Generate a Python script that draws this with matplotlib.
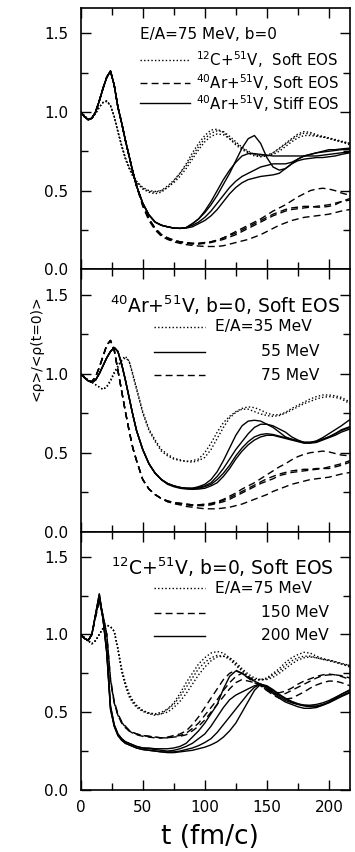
import numpy as np
import matplotlib
matplotlib.use("Agg")
import matplotlib.pyplot as plt
from matplotlib.ticker import MultipleLocator

plt.rcParams["font.family"] = ["DejaVu Sans"]
plt.rcParams["mathtext.default"] = "regular"

# time grid (fm/c) shared by all curves
t = [0, 3, 6, 9, 12, 15, 18, 21, 24, 27,
     30, 33, 36, 39, 42, 45, 50, 55, 60, 65,
     70, 75, 80, 85, 90, 95, 100, 105, 110, 115,
     120, 125, 130, 135, 140, 145, 150, 155, 160, 165,
     170, 175, 180, 185, 190, 195, 200, 205, 210, 217]

# ---- panel 1: E/A=75 MeV, b=0 ----
p1_dot_a = [1.00, 0.975, 0.955, 0.96, 0.99, 1.03, 1.06, 1.07, 1.04, 0.97,
            0.87, 0.78, 0.70, 0.64, 0.59, 0.55, 0.51, 0.49, 0.48, 0.49,
            0.52, 0.56, 0.61, 0.67, 0.74, 0.80, 0.85, 0.885, 0.89, 0.87,
            0.83, 0.79, 0.76, 0.74, 0.72, 0.715, 0.72, 0.74, 0.77, 0.80,
            0.83, 0.86, 0.875, 0.87, 0.855, 0.845, 0.835, 0.825, 0.815, 0.80]
p1_dot_b = [1.00, 0.975, 0.955, 0.96, 0.99, 1.03, 1.06, 1.065, 1.04, 0.97,
            0.88, 0.79, 0.71, 0.65, 0.60, 0.56, 0.52, 0.50, 0.495, 0.50,
            0.52, 0.55, 0.59, 0.64, 0.70, 0.76, 0.81, 0.845, 0.86, 0.855,
            0.83, 0.80, 0.77, 0.745, 0.73, 0.72, 0.72, 0.73, 0.75, 0.78,
            0.81, 0.835, 0.85, 0.85, 0.845, 0.84, 0.83, 0.82, 0.81, 0.80]
p1_dot_c = [1.00, 0.975, 0.955, 0.96, 0.99, 1.03, 1.06, 1.07, 1.04, 0.97,
            0.875, 0.785, 0.705, 0.645, 0.595, 0.555, 0.515, 0.495, 0.49, 0.50,
            0.53, 0.565, 0.61, 0.66, 0.72, 0.78, 0.83, 0.865, 0.88, 0.875,
            0.845, 0.81, 0.775, 0.75, 0.73, 0.72, 0.725, 0.74, 0.765, 0.795,
            0.825, 0.85, 0.865, 0.86, 0.85, 0.84, 0.835, 0.82, 0.81, 0.79]

p1_dash_a = [1.00, 0.97, 0.95, 0.96, 1.00, 1.07, 1.15, 1.22, 1.26, 1.17,
             1.03, 0.93, 0.82, 0.72, 0.62, 0.53, 0.41, 0.32, 0.26, 0.22,
             0.20, 0.185, 0.175, 0.17, 0.165, 0.165, 0.17, 0.175, 0.185, 0.20,
             0.22, 0.24, 0.26, 0.28, 0.30, 0.32, 0.345, 0.37, 0.39, 0.41,
             0.435, 0.46, 0.48, 0.50, 0.51, 0.515, 0.51, 0.50, 0.485, 0.47]
p1_dash_b = [1.00, 0.97, 0.95, 0.96, 1.00, 1.07, 1.15, 1.22, 1.26, 1.17,
             1.03, 0.93, 0.82, 0.72, 0.62, 0.53, 0.41, 0.32, 0.26, 0.22,
             0.20, 0.185, 0.175, 0.17, 0.165, 0.165, 0.17, 0.175, 0.185, 0.20,
             0.215, 0.23, 0.25, 0.27, 0.29, 0.31, 0.33, 0.35, 0.365, 0.38,
             0.39, 0.395, 0.40, 0.40, 0.395, 0.395, 0.40, 0.41, 0.43, 0.45]
p1_dash_c = [1.00, 0.97, 0.95, 0.96, 1.00, 1.07, 1.15, 1.22, 1.26, 1.17,
             1.03, 0.93, 0.82, 0.72, 0.62, 0.53, 0.41, 0.32, 0.26, 0.22,
             0.195, 0.18, 0.17, 0.165, 0.16, 0.16, 0.165, 0.17, 0.18, 0.19,
             0.205, 0.22, 0.24, 0.26, 0.28, 0.30, 0.32, 0.34, 0.355, 0.37,
             0.38, 0.385, 0.39, 0.395, 0.40, 0.405, 0.41, 0.42, 0.43, 0.44]
p1_dash_d = [1.00, 0.97, 0.95, 0.96, 1.00, 1.07, 1.15, 1.22, 1.26, 1.17,
             1.03, 0.93, 0.82, 0.72, 0.62, 0.53, 0.40, 0.31, 0.25, 0.21,
             0.19, 0.175, 0.165, 0.157, 0.152, 0.148, 0.145, 0.145, 0.145, 0.15,
             0.16, 0.17, 0.18, 0.19, 0.205, 0.22, 0.24, 0.26, 0.28, 0.295,
             0.31, 0.32, 0.33, 0.335, 0.34, 0.345, 0.35, 0.36, 0.37, 0.38]

p1_solid_a = [1.00, 0.97, 0.95, 0.96, 1.00, 1.07, 1.15, 1.22, 1.26, 1.17,
              1.03, 0.93, 0.82, 0.72, 0.62, 0.53, 0.42, 0.345, 0.30, 0.28,
              0.27, 0.262, 0.26, 0.265, 0.29, 0.32, 0.36, 0.41, 0.47, 0.54,
              0.61, 0.69, 0.77, 0.83, 0.85, 0.80, 0.71, 0.65, 0.63, 0.64,
              0.67, 0.70, 0.72, 0.73, 0.74, 0.745, 0.75, 0.755, 0.76, 0.76]
p1_solid_b = [1.00, 0.97, 0.95, 0.96, 1.00, 1.07, 1.15, 1.22, 1.26, 1.17,
              1.03, 0.93, 0.82, 0.72, 0.62, 0.53, 0.42, 0.345, 0.30, 0.28,
              0.27, 0.262, 0.26, 0.265, 0.29, 0.32, 0.37, 0.43, 0.50, 0.57,
              0.63, 0.68, 0.72, 0.735, 0.735, 0.73, 0.725, 0.72, 0.72, 0.72,
              0.72, 0.72, 0.72, 0.72, 0.72, 0.725, 0.73, 0.735, 0.74, 0.745]
p1_solid_c = [1.00, 0.97, 0.95, 0.96, 1.00, 1.07, 1.15, 1.22, 1.26, 1.17,
              1.03, 0.93, 0.82, 0.72, 0.62, 0.53, 0.42, 0.345, 0.30, 0.28,
              0.27, 0.262, 0.26, 0.265, 0.28, 0.30, 0.33, 0.37, 0.42, 0.47,
              0.52, 0.56, 0.59, 0.61, 0.63, 0.65, 0.66, 0.67, 0.67, 0.67,
              0.68, 0.70, 0.72, 0.73, 0.74, 0.75, 0.76, 0.76, 0.765, 0.77]
p1_solid_d = [1.00, 0.97, 0.95, 0.96, 1.00, 1.07, 1.15, 1.22, 1.26, 1.17,
              1.03, 0.93, 0.82, 0.72, 0.62, 0.53, 0.42, 0.345, 0.30, 0.28,
              0.27, 0.262, 0.26, 0.262, 0.27, 0.29, 0.31, 0.34, 0.38, 0.43,
              0.48, 0.52, 0.55, 0.57, 0.58, 0.59, 0.595, 0.60, 0.61, 0.64,
              0.67, 0.69, 0.70, 0.705, 0.71, 0.71, 0.715, 0.72, 0.73, 0.74]

# ---- panel 2: 40Ar+51V, b=0, soft EOS ----
p2_dot_a = [1.00, 0.98, 0.96, 0.945, 0.93, 0.915, 0.90, 0.92, 0.96, 1.01,
            1.05, 1.09, 1.11, 1.08, 0.99, 0.90, 0.75, 0.64, 0.57, 0.51,
            0.48, 0.46, 0.45, 0.445, 0.45, 0.46, 0.50, 0.56, 0.63, 0.69,
            0.73, 0.76, 0.78, 0.79, 0.785, 0.77, 0.75, 0.74, 0.74, 0.755,
            0.78, 0.80, 0.82, 0.84, 0.855, 0.865, 0.865, 0.86, 0.85, 0.82]
p2_dot_b = [1.00, 0.98, 0.96, 0.945, 0.93, 0.915, 0.90, 0.915, 0.95, 1.00,
            1.04, 1.08, 1.10, 1.08, 1.00, 0.91, 0.76, 0.65, 0.58, 0.52,
            0.49, 0.465, 0.455, 0.445, 0.44, 0.45, 0.47, 0.52, 0.59, 0.66,
            0.72, 0.755, 0.775, 0.775, 0.76, 0.745, 0.735, 0.73, 0.735, 0.75,
            0.77, 0.79, 0.81, 0.825, 0.84, 0.85, 0.855, 0.85, 0.84, 0.81]

p2_solid_a = [1.00, 0.975, 0.955, 0.945, 0.96, 1.00, 1.05, 1.10, 1.14, 1.165,
              1.14, 1.06, 0.96, 0.85, 0.74, 0.64, 0.52, 0.43, 0.37, 0.33,
              0.305, 0.29, 0.28, 0.275, 0.275, 0.285, 0.30, 0.33, 0.38, 0.45,
              0.53, 0.61, 0.67, 0.70, 0.705, 0.70, 0.68, 0.66, 0.63, 0.60,
              0.585, 0.575, 0.565, 0.565, 0.575, 0.595, 0.62, 0.645, 0.67, 0.71]
p2_solid_b = [1.00, 0.975, 0.955, 0.945, 0.96, 1.00, 1.05, 1.10, 1.14, 1.165,
              1.14, 1.06, 0.96, 0.85, 0.74, 0.64, 0.52, 0.43, 0.37, 0.33,
              0.305, 0.29, 0.28, 0.275, 0.275, 0.28, 0.29, 0.31, 0.35, 0.40,
              0.46, 0.52, 0.57, 0.62, 0.66, 0.68, 0.68, 0.67, 0.65, 0.63,
              0.60, 0.58, 0.565, 0.565, 0.57, 0.585, 0.60, 0.62, 0.645, 0.665]
p2_solid_c = [1.00, 0.975, 0.955, 0.945, 0.96, 1.00, 1.05, 1.10, 1.14, 1.165,
              1.14, 1.06, 0.96, 0.85, 0.74, 0.64, 0.52, 0.43, 0.37, 0.33,
              0.305, 0.29, 0.28, 0.275, 0.272, 0.275, 0.285, 0.30, 0.33, 0.37,
              0.42, 0.48, 0.53, 0.57, 0.60, 0.615, 0.62, 0.615, 0.605, 0.595,
              0.585, 0.575, 0.565, 0.565, 0.57, 0.585, 0.60, 0.62, 0.64, 0.66]
p2_solid_d = [1.00, 0.975, 0.955, 0.945, 0.96, 1.00, 1.05, 1.10, 1.14, 1.165,
              1.14, 1.06, 0.96, 0.85, 0.74, 0.64, 0.52, 0.43, 0.37, 0.33,
              0.30, 0.285, 0.275, 0.27, 0.268, 0.27, 0.275, 0.29, 0.31, 0.35,
              0.40, 0.46, 0.51, 0.55, 0.58, 0.60, 0.61, 0.61, 0.60, 0.59,
              0.58, 0.57, 0.56, 0.56, 0.565, 0.58, 0.595, 0.61, 0.63, 0.65]

p2_dash_a = [1.00, 0.975, 0.955, 0.95, 0.98, 1.04, 1.11, 1.18, 1.21, 1.15,
             1.02, 0.89, 0.76, 0.64, 0.53, 0.45, 0.33, 0.27, 0.235, 0.21,
             0.195, 0.185, 0.18, 0.175, 0.17, 0.17, 0.175, 0.18, 0.19, 0.205,
             0.225, 0.245, 0.27, 0.29, 0.31, 0.335, 0.36, 0.385, 0.41, 0.43,
             0.455, 0.475, 0.49, 0.50, 0.505, 0.51, 0.505, 0.495, 0.485, 0.48]
p2_dash_b = [1.00, 0.975, 0.955, 0.95, 0.98, 1.04, 1.11, 1.18, 1.21, 1.15,
             1.02, 0.89, 0.76, 0.64, 0.53, 0.45, 0.33, 0.27, 0.235, 0.21,
             0.195, 0.185, 0.18, 0.175, 0.17, 0.17, 0.17, 0.175, 0.185, 0.20,
             0.215, 0.235, 0.255, 0.275, 0.295, 0.315, 0.335, 0.35, 0.365, 0.375,
             0.385, 0.39, 0.395, 0.395, 0.40, 0.40, 0.41, 0.42, 0.43, 0.45]
p2_dash_c = [1.00, 0.975, 0.955, 0.95, 0.98, 1.04, 1.11, 1.18, 1.21, 1.15,
             1.02, 0.89, 0.76, 0.64, 0.53, 0.45, 0.33, 0.27, 0.235, 0.21,
             0.19, 0.18, 0.175, 0.17, 0.165, 0.165, 0.165, 0.17, 0.18, 0.19,
             0.205, 0.225, 0.245, 0.265, 0.285, 0.305, 0.32, 0.335, 0.355, 0.365,
             0.375, 0.38, 0.385, 0.39, 0.395, 0.40, 0.40, 0.41, 0.42, 0.44]
p2_dash_d = [1.00, 0.975, 0.955, 0.95, 0.98, 1.04, 1.11, 1.18, 1.21, 1.15,
             1.02, 0.89, 0.76, 0.64, 0.53, 0.45, 0.33, 0.27, 0.235, 0.21,
             0.19, 0.178, 0.17, 0.16, 0.155, 0.15, 0.145, 0.145, 0.145, 0.15,
             0.155, 0.165, 0.175, 0.19, 0.205, 0.22, 0.235, 0.255, 0.27, 0.285,
             0.30, 0.31, 0.32, 0.33, 0.335, 0.34, 0.345, 0.355, 0.365, 0.375]

# ---- panel 3: 12C+51V, b=0, soft EOS ----
p3_dot_a = [1.00, 0.98, 0.96, 0.94, 0.96, 1.00, 1.04, 1.06, 1.05, 1.02,
            0.90, 0.76, 0.67, 0.60, 0.56, 0.53, 0.505, 0.49, 0.48, 0.49,
            0.52, 0.56, 0.62, 0.69, 0.75, 0.81, 0.85, 0.88, 0.89, 0.88,
            0.85, 0.81, 0.77, 0.73, 0.71, 0.71, 0.72, 0.75, 0.78, 0.82,
            0.85, 0.87, 0.885, 0.88, 0.86, 0.845, 0.835, 0.825, 0.81, 0.79]
p3_dot_b = [1.00, 0.98, 0.96, 0.94, 0.96, 1.00, 1.04, 1.06, 1.05, 1.02,
            0.91, 0.77, 0.68, 0.61, 0.57, 0.54, 0.51, 0.495, 0.49, 0.50,
            0.52, 0.55, 0.60, 0.66, 0.72, 0.78, 0.82, 0.85, 0.865, 0.86,
            0.84, 0.80, 0.765, 0.73, 0.71, 0.705, 0.715, 0.74, 0.765, 0.80,
            0.83, 0.85, 0.86, 0.86, 0.85, 0.84, 0.83, 0.82, 0.81, 0.80]
p3_dot_c = [1.00, 0.98, 0.96, 0.94, 0.96, 1.00, 1.04, 1.06, 1.05, 1.02,
            0.91, 0.78, 0.69, 0.62, 0.575, 0.545, 0.51, 0.495, 0.485, 0.49,
            0.50, 0.53, 0.57, 0.62, 0.68, 0.74, 0.79, 0.83, 0.855, 0.86,
            0.85, 0.82, 0.78, 0.745, 0.72, 0.71, 0.71, 0.725, 0.75, 0.78,
            0.81, 0.835, 0.85, 0.855, 0.85, 0.84, 0.835, 0.825, 0.815, 0.80]

p3_dash_a = [1.00, 0.975, 0.96, 1.00, 1.12, 1.24, 1.12, 1.00, 0.70, 0.56,
             0.48, 0.43, 0.40, 0.38, 0.37, 0.36, 0.35, 0.345, 0.34, 0.335,
             0.34, 0.35, 0.36, 0.38, 0.42, 0.47, 0.53, 0.59, 0.65, 0.71,
             0.75, 0.77, 0.75, 0.72, 0.69, 0.67, 0.64, 0.62, 0.61, 0.62,
             0.64, 0.66, 0.68, 0.70, 0.72, 0.735, 0.74, 0.74, 0.735, 0.72]
p3_dash_b = [1.00, 0.975, 0.96, 1.00, 1.11, 1.21, 1.12, 1.00, 0.72, 0.57,
             0.49, 0.44, 0.41, 0.385, 0.37, 0.36, 0.35, 0.345, 0.34, 0.335,
             0.335, 0.345, 0.35, 0.365, 0.395, 0.43, 0.48, 0.53, 0.58, 0.64,
             0.69, 0.73, 0.75, 0.73, 0.70, 0.675, 0.65, 0.63, 0.625, 0.635,
             0.655, 0.68, 0.70, 0.715, 0.73, 0.74, 0.745, 0.74, 0.73, 0.71]
p3_dash_c = [1.00, 0.975, 0.96, 1.00, 1.12, 1.23, 1.12, 1.00, 0.71, 0.56,
             0.48, 0.435, 0.405, 0.38, 0.365, 0.355, 0.345, 0.34, 0.335, 0.335,
             0.335, 0.34, 0.345, 0.355, 0.38, 0.41, 0.45, 0.50, 0.55, 0.60,
             0.65, 0.69, 0.71, 0.70, 0.69, 0.67, 0.64, 0.61, 0.59, 0.585,
             0.59, 0.61, 0.63, 0.655, 0.675, 0.69, 0.70, 0.70, 0.69, 0.67]

p3_solid_a = [1.00, 0.975, 0.96, 1.00, 1.13, 1.26, 1.10, 0.90, 0.54, 0.42,
              0.36, 0.33, 0.31, 0.30, 0.29, 0.28, 0.27, 0.27, 0.265, 0.265,
              0.265, 0.27, 0.28, 0.30, 0.34, 0.38, 0.43, 0.49, 0.55, 0.65,
              0.73, 0.765, 0.75, 0.72, 0.70, 0.68, 0.65, 0.62, 0.59, 0.565,
              0.55, 0.535, 0.525, 0.525, 0.53, 0.545, 0.565, 0.59, 0.615, 0.645]
p3_solid_b = [1.00, 0.975, 0.96, 1.00, 1.13, 1.25, 1.10, 0.90, 0.54, 0.42,
              0.36, 0.33, 0.31, 0.30, 0.29, 0.28, 0.27, 0.265, 0.26, 0.255,
              0.25, 0.255, 0.265, 0.28, 0.30, 0.33, 0.36, 0.41, 0.47, 0.53,
              0.58, 0.61, 0.63, 0.65, 0.67, 0.68, 0.66, 0.63, 0.60, 0.575,
              0.56, 0.55, 0.545, 0.545, 0.55, 0.56, 0.575, 0.595, 0.615, 0.64]
p3_solid_c = [1.00, 0.975, 0.96, 1.00, 1.13, 1.26, 1.10, 0.88, 0.52, 0.41,
              0.35, 0.32, 0.30, 0.29, 0.28, 0.27, 0.26, 0.255, 0.25, 0.245,
              0.245, 0.245, 0.25, 0.26, 0.27, 0.285, 0.305, 0.33, 0.37, 0.42,
              0.47, 0.52, 0.57, 0.62, 0.66, 0.68, 0.665, 0.64, 0.61, 0.585,
              0.565, 0.55, 0.54, 0.535, 0.535, 0.545, 0.56, 0.58, 0.60, 0.625]
p3_solid_d = [1.00, 0.975, 0.96, 1.00, 1.12, 1.22, 1.10, 0.88, 0.52, 0.41,
              0.35, 0.32, 0.30, 0.29, 0.28, 0.27, 0.26, 0.255, 0.25, 0.245,
              0.24, 0.24, 0.245, 0.25, 0.255, 0.265, 0.275, 0.29, 0.31, 0.34,
              0.38, 0.43, 0.50, 0.57, 0.64, 0.68, 0.67, 0.645, 0.615, 0.59,
              0.57, 0.555, 0.545, 0.54, 0.54, 0.55, 0.565, 0.585, 0.605, 0.63]

# legend texts
p1_title = "E/A=75 MeV, b=0"
p1_labels = [r"$^{12}$C+$^{51}$V,  Soft EOS",
             r"$^{40}$Ar+$^{51}$V, Soft EOS",
             r"$^{40}$Ar+$^{51}$V, Stiff EOS"]
p2_title = r"$^{40}$Ar+$^{51}$V, b=0, Soft EOS"
p2_labels = ["E/A=35 MeV", "55 MeV", "75 MeV"]
p3_title = r"$^{12}$C+$^{51}$V, b=0, Soft EOS"
p3_labels = ["E/A=75 MeV", "150 MeV", "200 MeV"]

DOT = (0, (1, 1.6))
DASH = (0, (5, 3))
SOLID = "-"

panels = [
    [(p1_dot_a, DOT), (p1_dot_b, DOT), (p1_dot_c, DOT),
     (p1_dash_a, DASH), (p1_dash_b, DASH), (p1_dash_c, DASH), (p1_dash_d, DASH),
     (p1_solid_a, SOLID), (p1_solid_b, SOLID), (p1_solid_c, SOLID), (p1_solid_d, SOLID)],
    [(p2_dot_a, DOT), (p2_dot_b, DOT),
     (p2_solid_a, SOLID), (p2_solid_b, SOLID), (p2_solid_c, SOLID), (p2_solid_d, SOLID),
     (p2_dash_a, DASH), (p2_dash_b, DASH), (p2_dash_c, DASH), (p2_dash_d, DASH)],
    [(p3_dot_a, DOT), (p3_dot_b, DOT), (p3_dot_c, DOT),
     (p3_dash_a, DASH), (p3_dash_b, DASH), (p3_dash_c, DASH),
     (p3_solid_a, SOLID), (p3_solid_b, SOLID), (p3_solid_c, SOLID), (p3_solid_d, SOLID)],
]

fig = plt.figure(figsize=(3.55, 8.52), dpi=100)
left, width = 0.2273, 0.7586
bounds = [(0.6839, 0.9906), (0.3759, 0.6839), (0.0728, 0.3759)]

axes = []
for k, (b, tp) in enumerate(bounds):
    ax = fig.add_axes([left, b, width, tp - b])
    for vals, ls in panels[k]:
        ax.plot(t, vals, color="black", lw=1.0, linestyle=ls)
    ax.set_xlim(0, 217)
    ax.set_ylim(0, 1.66)
    ax.xaxis.set_major_locator(MultipleLocator(50))
    ax.xaxis.set_minor_locator(MultipleLocator(25))
    ax.yaxis.set_major_locator(MultipleLocator(0.5))
    ax.yaxis.set_minor_locator(MultipleLocator(0.25))
    ax.yaxis.set_major_formatter(plt.FormatStrFormatter("%.1f"))
    ax.tick_params(which="both", direction="in", top=True, right=True, width=1.0,
                   labelsize=11)
    ax.tick_params(which="major", length=7)
    ax.tick_params(which="minor", length=5)
    ax.tick_params(axis="y", pad=9)
    ax.tick_params(axis="x", pad=7, labelbottom=(k == 2))
    for s in ax.spines.values():
        s.set_linewidth(1.2)
    axes.append(ax)

def draw_key(ax, rows_y, x0, x1, styles, labels, text_x, fs):
    for y, ls, lab, tx in zip(rows_y, styles, labels, text_x):
        ax.plot([x0, x1], [y, y], transform=ax.transAxes, color="black",
                lw=1.0, linestyle=ls, clip_on=False)
        ax.text(tx, y, lab, transform=ax.transAxes, ha="left", va="center",
                fontsize=fs)

ax1, ax2, ax3 = axes
ax1.text(0.219, 0.897, p1_title, transform=ax1.transAxes, ha="left",
         va="center", fontsize=11)
draw_key(ax1, [0.801, 0.714, 0.635], 0.219, 0.405, [DOT, DASH, SOLID],
         p1_labels, [0.429] * 3, 10.8)

ax2.text(0.109, 0.864, p2_title, transform=ax2.transAxes, ha="left",
         va="center", fontsize=13.5)
draw_key(ax2, [0.781, 0.686, 0.597], 0.273, 0.461, [DOT, SOLID, DASH],
         p2_labels, [0.499, 0.670, 0.670], 11.2)

ax3.text(0.1125, 0.864, p3_title, transform=ax3.transAxes, ha="left",
         va="center", fontsize=13.5)
draw_key(ax3, [0.781, 0.686, 0.597], 0.273, 0.461, [DOT, DASH, SOLID],
         p3_labels, [0.499, 0.670, 0.670], 11.2)

fig.text(0.104, 0.5915, "<\u03c1>/<\u03c1(t=0)>", rotation=90, ha="center",
         va="center", fontsize=10)
fig.text(0.59, 0.0176, "t (fm/c)", ha="center", va="center", fontsize=19)

fig.savefig("out.png", dpi=100)
